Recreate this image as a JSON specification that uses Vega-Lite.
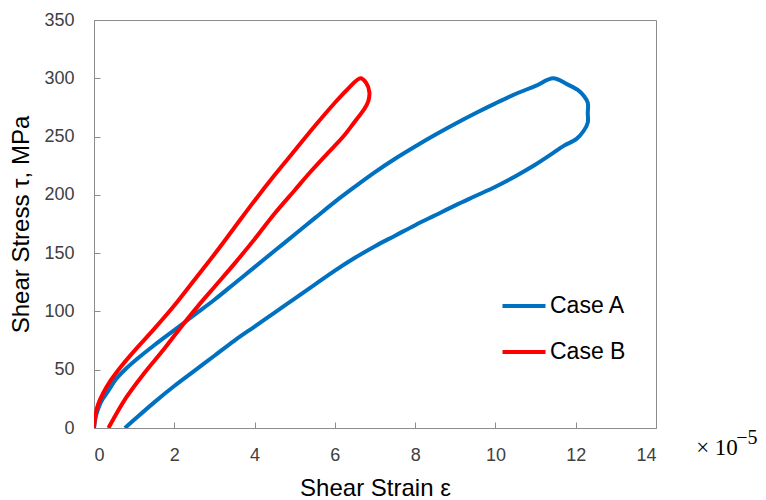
{
  "$schema": "https://vega.github.io/schema/vega-lite/v6.json",
  "width": 562,
  "height": 408,
  "autosize": {"type": "none"},
  "padding": {"left": 94, "top": 20, "right": 110, "bottom": 72},
  "background": "white",
  "config": {
    "view": {"stroke": "#8c8c8c", "strokeWidth": 1},
    "axis": {
      "domainColor": "#8c8c8c",
      "tickColor": "#8c8c8c",
      "grid": false,
      "labelFont": "Liberation Sans",
      "labelFontSize": 18,
      "labelColor": "#404040",
      "titleFont": "Liberation Sans",
      "titleFontSize": 24,
      "titleFontWeight": "normal",
      "titleColor": "#000000"
    },
    "legend": {
      "labelFont": "Liberation Sans",
      "labelFontSize": 23,
      "labelColor": "#000000"
    }
  },
  "layer": [
    {
      "data": {
        "values": [
          {"c": "Case A", "i": 0, "x": 0, "y": 0},
          {"c": "Case A", "i": 1, "x": 0.04, "y": 9},
          {"c": "Case A", "i": 2, "x": 0.12, "y": 18},
          {"c": "Case A", "i": 3, "x": 0.22, "y": 25},
          {"c": "Case A", "i": 4, "x": 0.36, "y": 32},
          {"c": "Case A", "i": 5, "x": 0.55, "y": 42},
          {"c": "Case A", "i": 6, "x": 0.77, "y": 50},
          {"c": "Case A", "i": 7, "x": 1.1, "y": 60},
          {"c": "Case A", "i": 8, "x": 1.5, "y": 71},
          {"c": "Case A", "i": 9, "x": 2.0, "y": 84},
          {"c": "Case A", "i": 10, "x": 2.5, "y": 97},
          {"c": "Case A", "i": 11, "x": 3.0, "y": 110},
          {"c": "Case A", "i": 12, "x": 3.5, "y": 124},
          {"c": "Case A", "i": 13, "x": 4.0, "y": 138},
          {"c": "Case A", "i": 14, "x": 4.5, "y": 152},
          {"c": "Case A", "i": 15, "x": 5.0, "y": 166},
          {"c": "Case A", "i": 16, "x": 5.5, "y": 180},
          {"c": "Case A", "i": 17, "x": 6.0, "y": 194},
          {"c": "Case A", "i": 18, "x": 6.5, "y": 207},
          {"c": "Case A", "i": 19, "x": 7.0, "y": 219.5},
          {"c": "Case A", "i": 20, "x": 7.5, "y": 231},
          {"c": "Case A", "i": 21, "x": 8.0, "y": 241.5},
          {"c": "Case A", "i": 22, "x": 8.5, "y": 251.5},
          {"c": "Case A", "i": 23, "x": 9.0, "y": 261},
          {"c": "Case A", "i": 24, "x": 9.5, "y": 270},
          {"c": "Case A", "i": 25, "x": 10.0, "y": 278.5},
          {"c": "Case A", "i": 26, "x": 10.5, "y": 286.5},
          {"c": "Case A", "i": 27, "x": 11.0, "y": 293.5},
          {"c": "Case A", "i": 28, "x": 11.44, "y": 300},
          {"c": "Case A", "i": 29, "x": 11.78, "y": 295},
          {"c": "Case A", "i": 30, "x": 12.05, "y": 290},
          {"c": "Case A", "i": 31, "x": 12.2, "y": 285},
          {"c": "Case A", "i": 32, "x": 12.3, "y": 279},
          {"c": "Case A", "i": 33, "x": 12.3, "y": 270},
          {"c": "Case A", "i": 34, "x": 12.3, "y": 262},
          {"c": "Case A", "i": 35, "x": 12.2, "y": 255},
          {"c": "Case A", "i": 36, "x": 12.02, "y": 248},
          {"c": "Case A", "i": 37, "x": 11.7, "y": 242},
          {"c": "Case A", "i": 38, "x": 11.44, "y": 236},
          {"c": "Case A", "i": 39, "x": 11.0, "y": 226},
          {"c": "Case A", "i": 40, "x": 10.5, "y": 216},
          {"c": "Case A", "i": 41, "x": 10.0, "y": 207},
          {"c": "Case A", "i": 42, "x": 9.5, "y": 199},
          {"c": "Case A", "i": 43, "x": 9.0, "y": 191},
          {"c": "Case A", "i": 44, "x": 8.5, "y": 182.5},
          {"c": "Case A", "i": 45, "x": 8.0, "y": 174},
          {"c": "Case A", "i": 46, "x": 7.5, "y": 165},
          {"c": "Case A", "i": 47, "x": 7.0, "y": 156},
          {"c": "Case A", "i": 48, "x": 6.5, "y": 146},
          {"c": "Case A", "i": 49, "x": 6.0, "y": 135},
          {"c": "Case A", "i": 50, "x": 5.5, "y": 123},
          {"c": "Case A", "i": 51, "x": 5.0, "y": 111},
          {"c": "Case A", "i": 52, "x": 4.5, "y": 99},
          {"c": "Case A", "i": 53, "x": 4.0, "y": 87},
          {"c": "Case A", "i": 54, "x": 3.5, "y": 75},
          {"c": "Case A", "i": 55, "x": 3.0, "y": 62},
          {"c": "Case A", "i": 56, "x": 2.5, "y": 49},
          {"c": "Case A", "i": 57, "x": 2.0, "y": 36},
          {"c": "Case A", "i": 58, "x": 1.5, "y": 22},
          {"c": "Case A", "i": 59, "x": 1.0, "y": 7},
          {"c": "Case A", "i": 60, "x": 0.77, "y": 0},
          {"c": "Case B", "i": 0, "x": 0, "y": 0},
          {"c": "Case B", "i": 1, "x": 0.03, "y": 10},
          {"c": "Case B", "i": 2, "x": 0.1, "y": 20},
          {"c": "Case B", "i": 3, "x": 0.23, "y": 30},
          {"c": "Case B", "i": 4, "x": 0.42, "y": 41},
          {"c": "Case B", "i": 5, "x": 0.68, "y": 53},
          {"c": "Case B", "i": 6, "x": 1.0, "y": 66},
          {"c": "Case B", "i": 7, "x": 1.5, "y": 85},
          {"c": "Case B", "i": 8, "x": 2.0, "y": 105},
          {"c": "Case B", "i": 9, "x": 2.5, "y": 127},
          {"c": "Case B", "i": 10, "x": 3.0, "y": 149},
          {"c": "Case B", "i": 11, "x": 3.5, "y": 172},
          {"c": "Case B", "i": 12, "x": 4.0, "y": 195},
          {"c": "Case B", "i": 13, "x": 4.5, "y": 217},
          {"c": "Case B", "i": 14, "x": 5.0, "y": 238},
          {"c": "Case B", "i": 15, "x": 5.5, "y": 259},
          {"c": "Case B", "i": 16, "x": 6.0, "y": 279},
          {"c": "Case B", "i": 17, "x": 6.3, "y": 290},
          {"c": "Case B", "i": 18, "x": 6.64, "y": 300},
          {"c": "Case B", "i": 19, "x": 6.78, "y": 296},
          {"c": "Case B", "i": 20, "x": 6.86, "y": 288},
          {"c": "Case B", "i": 21, "x": 6.83, "y": 280},
          {"c": "Case B", "i": 22, "x": 6.72, "y": 273},
          {"c": "Case B", "i": 23, "x": 6.5, "y": 263},
          {"c": "Case B", "i": 24, "x": 6.21, "y": 250},
          {"c": "Case B", "i": 25, "x": 5.8, "y": 235},
          {"c": "Case B", "i": 26, "x": 5.4, "y": 220},
          {"c": "Case B", "i": 27, "x": 5.0, "y": 204},
          {"c": "Case B", "i": 28, "x": 4.5, "y": 184},
          {"c": "Case B", "i": 29, "x": 4.0, "y": 162},
          {"c": "Case B", "i": 30, "x": 3.5, "y": 141},
          {"c": "Case B", "i": 31, "x": 3.0, "y": 121},
          {"c": "Case B", "i": 32, "x": 2.6, "y": 105},
          {"c": "Case B", "i": 33, "x": 2.2, "y": 88},
          {"c": "Case B", "i": 34, "x": 1.75, "y": 68},
          {"c": "Case B", "i": 35, "x": 1.25, "y": 47},
          {"c": "Case B", "i": 36, "x": 0.8, "y": 26},
          {"c": "Case B", "i": 37, "x": 0.36, "y": 0}
        ]
      },
      "mark": {"type": "line", "strokeWidth": 4, "clip": true, "interpolate": "catmull-rom"},
      "encoding": {
        "x": {
          "field": "x", "type": "quantitative",
          "scale": {"domain": [0, 14], "nice": false},
          "axis": {"values": [0, 2, 4, 6, 8, 10, 12, 14], "tickSize": -6, "labelPadding": 24, "title": "Shear Strain ε", "titlePadding": 12}
        },
        "y": {
          "field": "y", "type": "quantitative",
          "scale": {"domain": [0, 350], "nice": false},
          "axis": {"values": [0, 50, 100, 150, 200, 250, 300, 350], "tickSize": -6, "labelPadding": 26, "title": "Shear Stress τ, MPa", "titlePadding": 10}
        },
        "color": {
          "field": "c", "type": "nominal",
          "scale": {"domain": ["Case A", "Case B"], "range": ["#0070C0", "#FF0000"]},
          "legend": {
            "title": null,
            "orient": "none",
            "legendX": 406,
            "legendY": 262,
            "symbolType": "stroke",
            "symbolSize": 1850,
            "symbolStrokeWidth": 4,
            "rowPadding": 10,
            "labelOffset": 2
          }
        },
        "order": {"field": "i", "type": "quantitative"}
      }
    },
    {
      "data": {"values": [{"t": "× 10"}]},
      "mark": {"type": "text", "align": "left", "baseline": "alphabetic", "fontSize": 23, "font": "Liberation Serif", "color": "#000000"},
      "encoding": {
        "x": {"datum": 15.0},
        "y": {"datum": -23},
        "text": {"field": "t"}
      }
    },
    {
      "data": {"values": [{"t": "−5"}]},
      "mark": {"type": "text", "align": "left", "baseline": "alphabetic", "fontSize": 20, "font": "Liberation Serif", "color": "#000000"},
      "encoding": {
        "x": {"datum": 16.0},
        "y": {"datum": -14},
        "text": {"field": "t"}
      }
    }
  ]
}
